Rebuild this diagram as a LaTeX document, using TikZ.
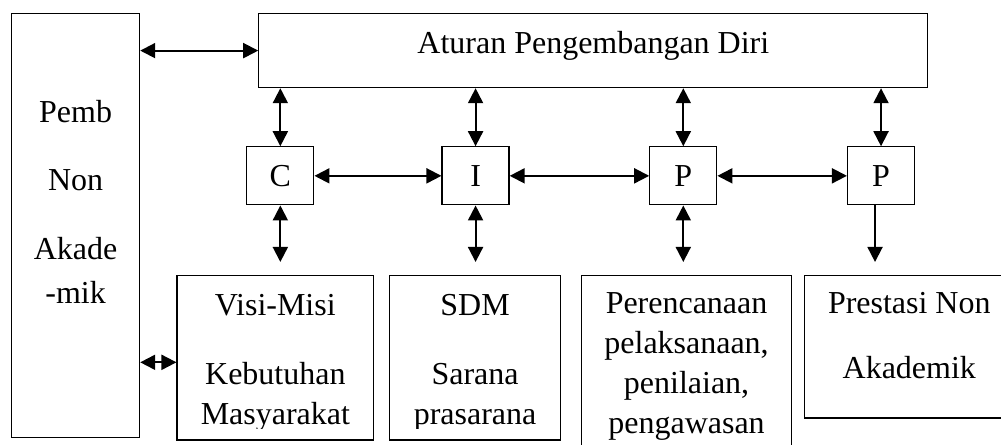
\documentclass[tikz,border=0pt]{standalone}
\usepackage{fontspec}
\setmainfont{Liberation Serif}
\usetikzlibrary{positioning,arrows.meta}

\begin{document}
\begin{tikzpicture}[
      every node/.style={font=\fontsize{18.2pt}{8mm}\selectfont, align=center},
      box/.style={draw, line width=0.7pt, inner sep=0pt},
      cell/.style={box, minimum width=13.4mm, minimum height=11.6mm},
      txt/.style={inner sep=0pt},
      >={Triangle[length=3mm, width=3mm]},
      arr/.style={<->, line width=1.1pt},
      one/.style={->, line width=1.1pt}
  ]
    \useasboundingbox (0,0) rectangle (200.2mm,-89mm);
    \node[box, minimum width=25.6mm, minimum height=84.8mm, anchor=north west] (pemb) at (2.2mm,-2.6mm) {};
    \node[box, minimum width=133.8mm, minimum height=14.8mm, text height=4.4mm, text depth=3.2mm, right=23.6mm of pemb.north east, anchor=north west] (aturan) {Aturan Pengembangan Diri};
    \node[cell, below=11.6mm of aturan.south west, anchor=north west, xshift=-2.4mm] (c) {C};
    \node[cell, right=25.4mm of c] (i) {I};
    \node[cell, right=27.9mm of i] (p1) {P};
    \node[cell, right=25.9mm of p1] (p2) {P};
    \node[box, minimum width=39.3mm, minimum height=32.9mm, below=13.9mm of c, xshift=-1mm] (visi) {};
    \node[box, minimum width=34.1mm, minimum height=32.9mm, right=3mm of visi] (sdm) {};
    \node[box, minimum width=42mm, minimum height=37.6mm, right=4mm of sdm.north east, anchor=north west] (renc) {};
    \node[box, minimum width=42mm, minimum height=28.5mm, right=2.3mm of renc.north east, anchor=north west] (prest) {};
    \node[txt, below=17.4mm of pemb.north] (pembtxt) {Pemb\\[5.6mm]Non\\[5.8mm]Akade\\[0.7mm]-mik};
    % text of the two lower boxes is cut off near the bottom edge
    \begin{scope}
      \clip (visi.north west) rectangle ([yshift=2.4mm]sdm.south east);
      \node[txt, below=3.8mm of visi.north] (visitxt) {Visi-Misi\\[5.8mm]Kebutuhan\\Masyarakat};
      \node[txt, below=3.8mm of sdm.north] (sdmtxt) {SDM\\[5.8mm]Sarana\\prasarana};
    \end{scope}
    \node[txt, below=3.4mm of renc.north] (renctxt) {Perencanaan\\pelaksanaan,\\penilaian,\\pengawasan};
    \node[txt, below=3.4mm of prest.north] (presttxt) {Prestasi Non\\[5mm]Akademik};
    \draw[arr] (aturan.west -| pemb.east) -- (aturan.west);
    \draw[arr] (c.north |- aturan.south) -- (c.north);
    \draw[arr] (i.north |- aturan.south) -- (i.north);
    \draw[arr] (p1.north |- aturan.south) -- (p1.north);
    \draw[arr] (p2.north |- aturan.south) -- (p2.north);
    \draw[arr] (c) -- (i);
    \draw[arr] (i) -- (p1);
    \draw[arr] (p1) -- (p2);
    \draw[arr, shorten >=2.6mm] (c.south) -- (c.south |- visi.north);
    \draw[arr, shorten >=2.6mm] (i.south) -- (i.south |- sdm.north);
    \draw[arr, shorten >=2.6mm] (p1.south) -- (p1.south |- renc.north);
    \draw[one, shorten >=2.6mm] ([xshift=-1.2mm]p2.south) -- ([xshift=-1.2mm]p2.south |- prest.north);
    \draw[arr] ([yshift=-0.9mm]visi.west -| pemb.east) -- ([yshift=-0.9mm]visi.west);
  \end{tikzpicture}
\end{document}
